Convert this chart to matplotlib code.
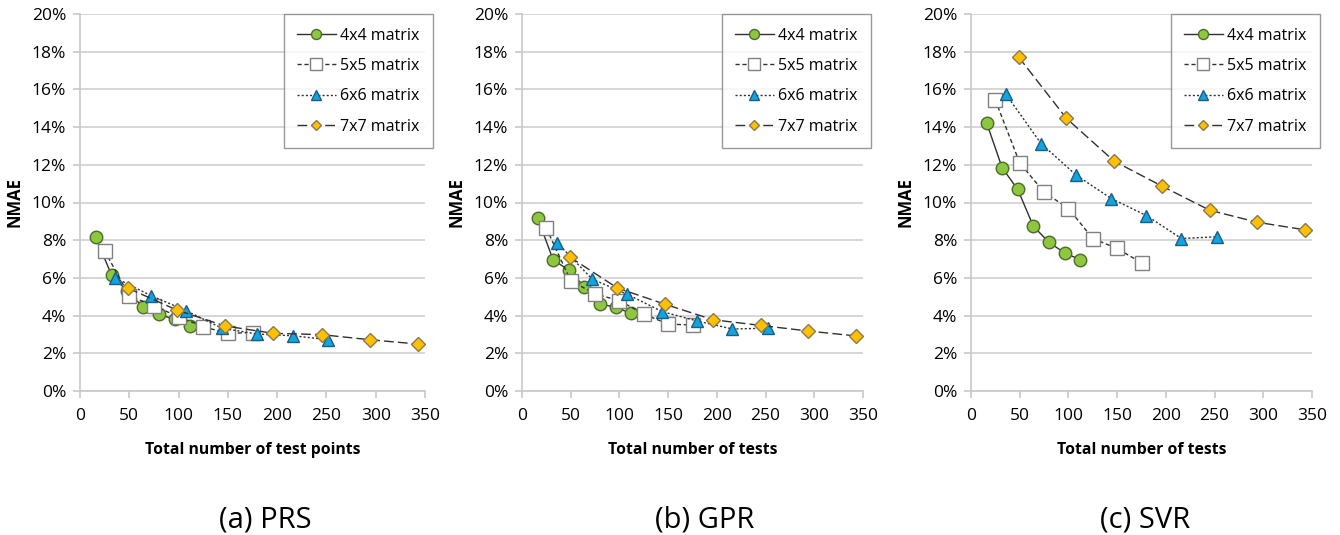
import matplotlib
matplotlib.use("Agg")
import matplotlib.pyplot as plt
from matplotlib.ticker import FuncFormatter, MultipleLocator

plt.rcParams['font.family'] = ['Open Sans', 'DejaVu Sans']

x_4x4 = [16, 32, 48, 64, 80, 96, 112]
x_5x5 = [25, 50, 75, 100, 125, 150, 175]
x_6x6 = [36, 72, 108, 144, 180, 216, 252]
x_7x7 = [49, 98, 147, 196, 245, 294, 343]

prs_4x4 = [8.15, 6.15, 5.3, 4.45, 4.07, 3.8, 3.47]
prs_5x5 = [7.43, 5.06, 4.5, 3.95, 3.41, 3.06, 3.1]
prs_6x6 = [6.0, 5.06, 4.25, 3.33, 3.02, 2.93, 2.72]
prs_7x7 = [5.45, 4.3, 3.45, 3.06, 2.99, 2.72, 2.49]

gpr_4x4 = [9.19, 6.95, 6.42, 5.53, 4.62, 4.44, 4.12]
gpr_5x5 = [8.63, 5.85, 5.15, 4.79, 4.08, 3.55, 3.5]
gpr_6x6 = [7.87, 5.94, 5.13, 4.21, 3.71, 3.29, 3.33]
gpr_7x7 = [7.11, 5.46, 4.6, 3.78, 3.48, 3.18, 2.92]

svr_4x4 = [14.23, 11.84, 10.69, 8.74, 7.89, 7.33, 6.97]
svr_5x5 = [15.43, 12.1, 10.55, 9.68, 8.09, 7.56, 6.8]
svr_6x6 = [15.73, 13.12, 11.45, 10.21, 9.31, 8.09, 8.18]
svr_7x7 = [17.71, 14.46, 12.19, 10.87, 9.59, 8.95, 8.55]

series_labels = ['4x4 matrix', '5x5 matrix', '6x6 matrix', '7x7 matrix']
panel_captions = ['(a) PRS', '(b) GPR', '(c) SVR']
x_labels = ['Total number of test points', 'Total number of tests', 'Total number of tests']
y_label = 'NMAE'

panels = [
    (prs_4x4, prs_5x5, prs_6x6, prs_7x7),
    (gpr_4x4, gpr_5x5, gpr_6x6, gpr_7x7),
    (svr_4x4, svr_5x5, svr_6x6, svr_7x7),
]
xs = [x_4x4, x_5x5, x_6x6, x_7x7]

styles = [
    dict(marker='o', ms=9, mfc='#8DC63F', mec='#4D6B2A', ls='-', color='#303030', lw=1.0),
    dict(marker='s', ms=10, mfc='white', mec='#808080', ls=(0, (3, 2)), color='#303030', lw=1.0),
    dict(marker='^', ms=9, mfc='#11A4DE', mec='#1A5E86', ls=(0, (1.5, 1.5)), color='#303030', lw=1.0),
    dict(marker='D', ms=7, mfc='#FFC000', mec='#8A7A50', ls=(0, (7, 3)), color='#303030', lw=1.0),
]

fig = plt.figure(figsize=(13.4, 5.35), dpi=100)
W, H = 1340, 535
axes_px = [(80, 345), (522, 341), (971, 341)]
top_px, bottom_px = 14, 391
caption_x = [265, 705, 1145]

for i, (left, width) in enumerate(axes_px):
    ax = fig.add_axes([left / W, (H - bottom_px) / H, width / W, (bottom_px - top_px) / H])
    for j in range(4):
        ax.plot(xs[j], panels[i][j], label=series_labels[j], **styles[j])
    ax.set_xlim(0, 350)
    ax.set_ylim(0, 20)
    ax.xaxis.set_major_locator(MultipleLocator(50))
    ax.yaxis.set_major_locator(MultipleLocator(2))
    ax.yaxis.set_major_formatter(FuncFormatter(lambda v, p: f'{v:.0f}%'))
    ax.grid(axis='y', color='#D0D0D0', lw=1.2)
    ax.set_axisbelow(True)
    for s in ['top', 'right']:
        ax.spines[s].set_visible(False)
    for s in ['left', 'bottom']:
        ax.spines[s].set_color('#C8C8C8')
        ax.spines[s].set_linewidth(1.2)
    ax.tick_params(axis='both', colors='#C8C8C8', labelcolor='black', labelsize=12.5, length=5, width=1.2)
    ax.tick_params(axis='x', pad=7)
    ax.tick_params(axis='y', pad=5)
    ax.set_xlabel(x_labels[i], fontsize=11.3, fontweight='bold', labelpad=13)
    ax.set_ylabel(y_label, fontsize=12, fontweight='bold', labelpad=6)
    leg = ax.legend(loc='upper right', bbox_to_anchor=(1.022, 1.0), fontsize=11.5, frameon=True,
                    fancybox=False, edgecolor='#808080', handlelength=2.4, handletextpad=0.25,
                    labelspacing=0.9, borderpad=0.85, markerscale=0.8, borderaxespad=0)
    leg.get_frame().set_linewidth(1.0)
    fig.text(caption_x[i] / W, 1 - 520 / H, panel_captions[i], ha='center', va='center', fontsize=21)

fig.savefig('out.png', dpi=100)
